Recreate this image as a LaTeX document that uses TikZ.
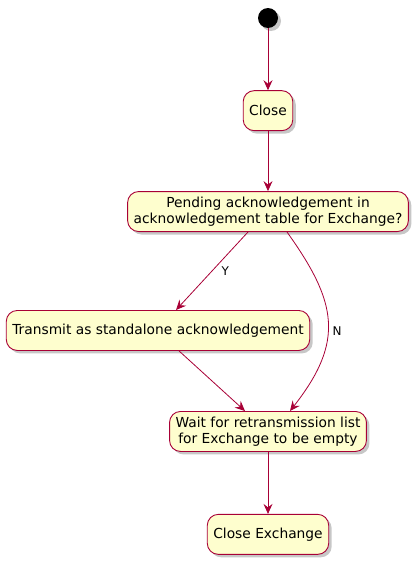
\documentclass[tikz,border=0pt]{standalone}
\usepackage{fontspec}
\setmainfont{DejaVu Sans}
\usepackage{tikz}
\usetikzlibrary{arrows.meta,positioning,shadows}
\definecolor{actBorder}{HTML}{A80036}
\definecolor{actFill}{HTML}{FEFECE}
\tikzset{
    actShadow/.style={
        drop shadow={shadow xshift=3pt,shadow yshift=-3pt,fill=black,opacity=0.22}
    },
    actBox/.style={
        draw=actBorder,
        fill=actFill,
        line width=0.9pt,
        rounded corners=11pt,
        align=center,
        minimum height=40pt,
        inner xsep=6pt,
        inner ysep=4pt,
        font=\fontsize{13.8}{16}\selectfont,
        actShadow
    },
    actStart/.style={
        circle,
        fill=black,
        minimum size=20pt,
        inner sep=0pt,
        actShadow
    },
    actArrow/.style={
        draw=actBorder,
        line width=0.8pt,
        -{Stealth[length=10pt,width=9pt,inset=3.5pt]}
    },
    actLabel/.style={
        font=\fontsize{12}{14}\selectfont,
        text=black
    }
}
\begin{document}
\begin{tikzpicture}[x=1pt,y=-1pt]
        \useasboundingbox (0,0) rectangle (417,565);
        \node[actStart] (start) at (268,18) {};
        \node[actBox,below=62pt of start] (close) {Close};
        \node[actBox,below=60pt of close] (pending) {Pending acknowledgement in\\acknowledgement table for Exchange?};
        \node[actBox,below=78pt of pending,xshift=-110pt] (transmit) {Transmit as standalone acknowledgement};
        \node[actBox,below=179pt of pending] (wait) {Wait for retransmission list\\for Exchange to be empty};
        \node[actBox,below=62pt of wait] (closeex) {Close Exchange};

        \draw[actArrow] (start) -- (close);
        \draw[actArrow] (close) -- (pending);
        \draw[actArrow] ([xshift=-20pt]pending.south) -- node[actLabel,right=6pt] {Y} ([xshift=18pt]transmit.north);
        \draw[actArrow] ([xshift=19pt]pending.south) .. controls +(50,70) and +(55,-70) .. node[actLabel,right=1pt,pos=0.56] {N} ([xshift=22pt]wait.north);
        \draw[actArrow] ([xshift=21pt]transmit.south) -- ([xshift=-23pt]wait.north);
        \draw[actArrow] (wait) -- (closeex);
    \end{tikzpicture}
\end{document}
